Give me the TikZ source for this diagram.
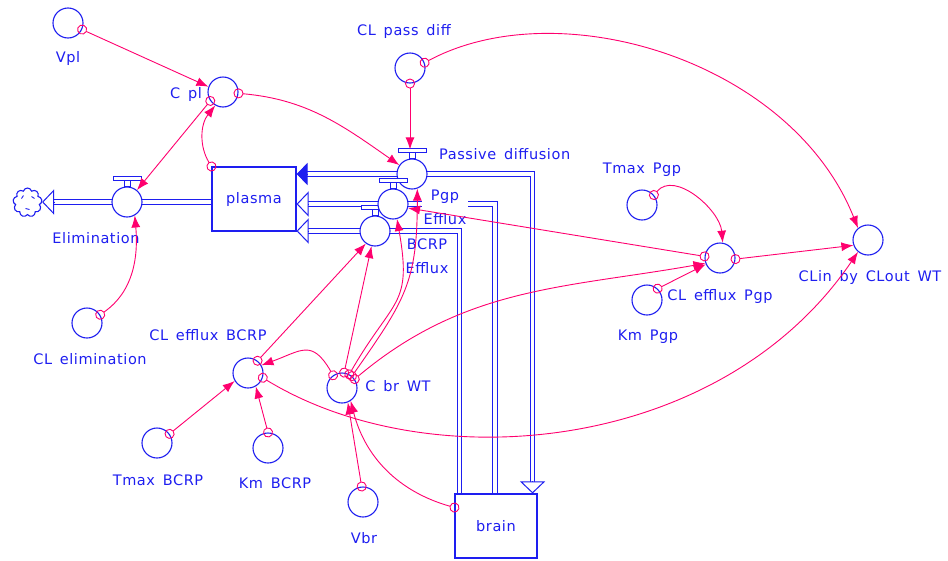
\documentclass[tikz,border=0pt]{standalone}
\usepackage{fontspec}
\newfontfamily\stellafont{DejaVu Sans}[LetterSpace=4, WordSpace=1.5]
\newcommand\stellasize{\stellafont\fontsize{14.5}{17}\selectfont}
\usetikzlibrary{arrows.meta,shapes.symbols,backgrounds,calc}
\definecolor{stblue}{RGB}{30,30,240}
\definecolor{stpink}{RGB}{255,0,110}
\tikzset{
  conv/.style={circle, draw=stblue, line width=1.1pt, fill=white, minimum size=30pt, inner sep=0pt},
  stock/.style={rectangle, draw=stblue, line width=1.1pt, fill=white, text=stblue, font=\stellasize},
  sink/.style={cloud, cloud puffs=9, aspect=1, draw=stblue, line width=1.1pt, fill=white, minimum width=29pt, minimum height=29pt, inner sep=0pt},
  txt/.style={text=stblue, font=\stellasize, inner sep=1pt},
  pipe/.style={draw=stblue, line width=1pt, double=white, double distance=3.6pt},
  conn/.style={stpink, line width=0.9pt, shorten <=-5pt, {Circle[open,length=10pt,width=10pt]}-{Latex[length=12pt,width=9pt]}},
  outtip/.style={stblue, line width=1pt, -{Triangle[open,length=12pt,width=25pt,fill=white]}},
  intip/.style={stblue, line width=1pt, -{Triangle[length=11pt,width=22pt]}},
}
% T-shaped valve handle on top of a flow circle
\newcommand\valvebar[1]{%
  \draw[stblue, line width=1pt, fill=white] ($(#1.north)+(-3,0)$) rectangle ($(#1.north)+(3,-6)$);
  \draw[stblue, line width=1pt, fill=white] ($(#1.north)+(-14,-6)$) rectangle ($(#1.north)+(14,-10)$);}

\begin{document}
\begin{tikzpicture}[x=1pt, y=-1pt]
  \useasboundingbox (0,0) rectangle (948,560);

  % Stocks and sink
  \node[stock, minimum width=84pt, minimum height=64pt] (plasma) at (254,199) {plasma};
  \node[stock, minimum width=82pt, minimum height=64pt] (brain) at (496,526) {brain};
  \node[sink] (cloud) at (27.5,202.5) {};
  \draw[stblue, line width=0.9pt] ($(cloud.center)+(-6,-4)$) -- ++(2,-3)
        ($(cloud.center)+(4,-6)$) -- ++(3,2)
        ($(cloud.center)+(-2,6)$) -- ++(4,1);

  % Flow valves
  \node[conv] (passive) at (412,174) {}; \valvebar{passive}
  \node[conv] (bcrp) at (375,231) {}; \valvebar{bcrp}
  \node[conv] (pgp) at (393,204) {}; \valvebar{pgp}
  \node[conv] (elim) at (127,202) {}; \valvebar{elim}

  % Lanes into the brain stock
  \coordinate (pdlane) at ($(brain.north east)+(-5,0)$);
  \coordinate (pglane) at ($(brain.north)+(-1,0)$);
  \coordinate (bclane) at ($(brain.north west)+(5,0)$);

  % Pipes
  \begin{scope}[on background layer]
    \draw[pipe] (plasma.west |- elim) -- ($(cloud.east |- elim)+(12,0)$);
    \draw[pipe] ($(plasma.east |- passive)+(10,0)$) -- (pdlane |- passive) -- ($(pdlane)+(0,-11)$);
    \draw[pipe] ($(plasma.east |- pgp)+(10,0)$) -- (pglane |- pgp) -- (pglane);
    \draw[pipe] ($(plasma.east |- bcrp)+(10,0)$) -- (bclane |- bcrp) -- (bclane);
  \end{scope}
  \draw[outtip] ($(cloud.east |- elim)+(12,0)$) -- (cloud.east |- elim);
  \draw[intip] ($(plasma.east |- passive)+(11,0)$) -- (plasma.east |- passive);
  \draw[outtip] ($(plasma.east |- pgp)+(12,0)$) -- (plasma.east |- pgp);
  \draw[outtip] ($(plasma.east |- bcrp)+(12,0)$) -- (plasma.east |- bcrp);
  \draw[outtip] ($(pdlane)+(0,-12)$) -- (pdlane);

  % Converters
  \node[conv] (vpl) at (68,23) {};
  \node[conv] (cpl) at (223,92) {};
  \node[conv] (clpass) at (410,68) {};
  \node[conv] (tmaxpgp) at (642,205) {};
  \node[conv] (clpgp) at (720,258) {};
  \node[conv] (kmpgp) at (647,300) {};
  \node[conv] (clin) at (868,240) {};
  \node[conv] (clelim) at (87,323) {};
  \node[conv] (clbcrp) at (248,373) {};
  \node[conv] (cbr) at (342,388) {};
  \node[conv] (tmaxbcrp) at (157,443) {};
  \node[conv] (kmbcrp) at (268,448) {};
  \node[conv] (vbr) at (363,502) {};

  % Labels
  \node[txt] (vplt) at (68,58) {Vpl};
  \node[txt] (cplt) at (186,94) {C pl};
  \node[txt] (clpasst) at (404,31) {CL pass diff};
  \node[txt, anchor=west] (passivet) at (438,154) {Passive diffusion};
  \node[txt, align=center, fill=white, inner sep=2pt] (pgpt) at (445,207) {Pgp\\[7pt]Efflux};
  \node[txt, align=center] (bcrpt) at (427,256) {BCRP\\[7pt]Efflux};
  \node[txt] (elimt) at (96,238) {Elimination};
  \node[txt] (clelimt) at (90,359) {CL elimination};
  \node[txt] (clbcrpt) at (208,335) {CL efflux BCRP};
  \node[txt] (cbrt) at (398,386) {C br WT};
  \node[txt] (tmaxbcrpt) at (158,480) {Tmax BCRP};
  \node[txt] (kmbcrpt) at (275,483) {Km BCRP};
  \node[txt] (vbrt) at (364,538) {Vbr};
  \node[txt] (tmaxpgpt) at (642,170) {Tmax Pgp};
  \node[txt] (clpgpt) at (720,296) {CL efflux Pgp};
  \node[txt] (kmpgpt) at (648,337) {Km Pgp};
  \node[txt] (clint) at (870,277) {CLin by CLout WT};

  % Connectors
  \draw[conn] (vpl.-25) -- (cpl.160);
  \draw[conn] (plasma.north west) to[bend left=35] (cpl.-120);
  \draw[conn] (cpl.-145) -- (elim.50);
  \draw[conn] (cpl.-5) to[out=-5, in=145] (passive.145);
  \draw[conn, shorten >=9pt] (clpass.south) -- (clpass.south |- passive.north);
  \draw[conn] (clpass.20) .. controls +(134,-72) and +(-67,-168) .. (clin.130);
  \draw[conn] (tmaxpgp.40) to[out=50, in=95] (clpgp.80);
  \draw[conn] (kmpgp.47) -- (clpgp.-156);
  \draw[conn] (clpgp.-4) -- (clin.-160);
  \draw[conn] (clpgp.174) -- (pgp.-15);
  \draw[conn] (cbr.35) to[out=40, in=-170] (clpgp.-160);
  \draw[conn] (cbr.50) to[out=55, in=-90, looseness=1.2] (passive.-70);
  \draw[conn] (cbr.62) to[out=60, in=-80, looseness=1.4] (pgp.-75);
  \draw[conn] (cbr.82) -- (bcrp.-103);
  \draw[conn] (clbcrp.52) -- (bcrp.-126);
  \draw[conn] (cbr.125) to[out=120, in=20, looseness=1.5] (clbcrp.30);
  \draw[conn] (clbcrp.-18) .. controls +(167,102) and +(-137,202) .. (clin.-130);
  \draw[conn] (tmaxbcrp.36) -- (clbcrp.-149);
  \draw[conn] (kmbcrp.90) -- (clbcrp.-60);
  \draw[conn] (vbr.95) -- (cbr.-68);
  \draw[conn] (brain.156) to[bend left=30] (cbr.-56);
  \draw[conn] (clelim.32) to[out=35, in=-85] (elim.-60);
\end{tikzpicture}
\end{document}
